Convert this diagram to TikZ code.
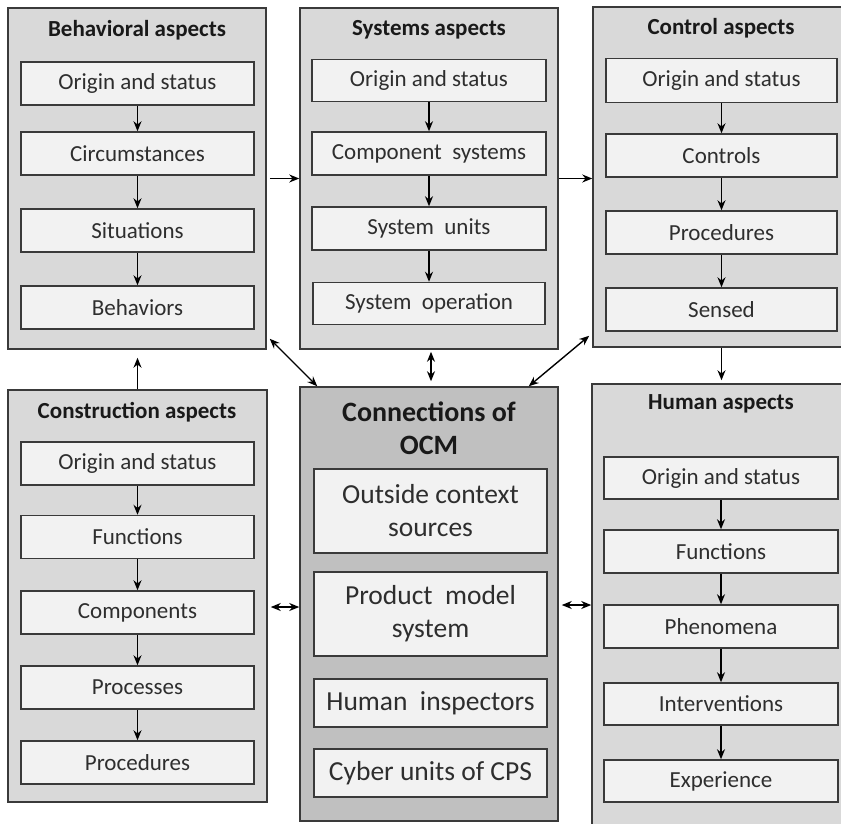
\documentclass[tikz,border=0pt]{standalone}
\usepackage{fontspec}
\setmainfont{Carlito}
\usetikzlibrary{arrows.meta}
\definecolor{bordc}{HTML}{3A3A3A}
\definecolor{outc}{HTML}{D9D9D9}
\definecolor{conc}{HTML}{C0C0C0}
\definecolor{inc}{HTML}{F2F2F2}
\definecolor{txtc}{HTML}{2E2E2E}
\tikzset{
  outer/.style={draw=bordc, line width=1.5pt, fill=outc, rectangle, inner sep=0pt},
  inbox/.style={draw=bordc, line width=1.5pt, fill=inc, rectangle, inner sep=0pt,
    minimum width=233pt, minimum height=43pt, text=txtc,
    font=\fontsize{23}{27}\selectfont},
  cbox/.style={draw=bordc, line width=1.5pt, fill=inc, rectangle, inner sep=0pt,
    minimum width=233pt, text=txtc, align=center,
    font=\fontsize{27.5}{33}\selectfont},
  ttl/.style={font=\bfseries\fontsize{23}{27}\selectfont, text=black!90, inner sep=0pt},
  arr/.style={-{Stealth[length=10pt,width=8pt]}, line width=1.4pt},
  darr/.style={{Stealth[length=10pt,width=8pt]}-{Stealth[length=10pt,width=8pt]}, line width=1.4pt},
}
\begin{document}
\begin{tikzpicture}[x=1pt,y=-1pt]
\path[use as bounding box] (0,0) rectangle (841,823);
\clip (0,0) rectangle (841,823);
\fill[white] (0,0) rectangle (841,823);

% outer boxes
\node[outer, minimum width=258pt, minimum height=341pt] (beh) at (137,178.5) {};
\node[outer, minimum width=258pt, minimum height=341pt] (sys) at (429,178.5) {};
\node[outer, minimum width=257pt, minimum height=340pt] (ctl) at (721.5,177) {};
\node[outer, minimum width=259pt, minimum height=412pt] (cons) at (137.5,596) {};
\node[outer, fill=conc, minimum width=258pt, minimum height=434pt] (conn) at (429,604) {};
\node[outer, minimum width=258pt, minimum height=456pt] (hum) at (721,612) {};

% titles
\node[ttl] (tbeh) at (137,30) {Behavioral\ aspects};
\node[ttl] (tsys) at (429,30) {Systems aspects};
\node[ttl] (tctl) at (721,28) {Control aspects};
\node[ttl] (tcons) at (137,412) {Construction aspects};
\node[ttl] (thum) at (721,404) {Human aspects};
\node[ttl, font=\bfseries\fontsize{28}{33}\selectfont, align=center] (tconn) at (429,428.5) {Connections of\\OCM};

% behavioral
\node[inbox] (b1) at (137.5,83.5) {Origin and status};
\node[inbox] (b2) at (137.5,153.5) {Circumstances};
\node[inbox] (b3) at (137.5,230.5) {Situations};
\node[inbox] (b4) at (137.5,307.5) {Behaviors};
% systems
\node[inbox, minimum width=234pt, minimum height=42pt] (s1) at (429,80.5) {Origin and status};
\node[inbox, minimum width=234pt] (s2) at (429,153.5) {Component\ \ systems};
\node[inbox, minimum width=234pt] (s3) at (429,228.5) {System\ \ units};
\node[inbox, minimum width=232pt, minimum height=42pt] (s4) at (429,303.5) {System\ \ operation};
% control
\node[inbox, minimum width=231pt, minimum height=44pt] (c1) at (721.5,80.5) {Origin and status};
\node[inbox, minimum width=231pt] (c2) at (721.5,155.5) {Controls};
\node[inbox, minimum width=231pt] (c3) at (721.5,232.5) {Procedures};
\node[inbox, minimum width=231pt] (c4) at (721.5,309.5) {Sensed};
% construction
\node[inbox] (k1) at (137.5,463.5) {Origin and status};
\node[inbox] (k2) at (137.5,537) {Functions};
\node[inbox] (k3) at (137.5,612.5) {Components};
\node[inbox] (k4) at (137.5,687.5) {Processes};
\node[inbox] (k5) at (137.5,762.5) {Procedures};
% human
\node[inbox, minimum width=234pt, minimum height=42pt] (h1) at (721,478) {Origin and status};
\node[inbox, minimum width=234pt] (h2) at (721,551.5) {Functions};
\node[inbox, minimum width=234pt] (h3) at (721,626.5) {Phenomena};
\node[inbox, minimum width=234pt, minimum height=42pt] (h4) at (721,704) {Interventions};
\node[inbox, minimum width=234pt, minimum height=42pt] (h5) at (721,781) {Experience};
% connections
\node[cbox, minimum height=84pt] (o1) at (430.5,511) {Outside context\\sources};
\node[cbox, minimum height=84pt] (o2) at (430.5,614) {Product\ \ model\\system};
\node[cbox, minimum height=48pt] (o3) at (430.5,703) {Human\ \ inspectors};
\node[cbox, minimum height=48pt] (o4) at (430.5,773) {Cyber units of CPS};

% inner arrows
\foreach \a/\b in {b1/b2,b2/b3,b3/b4,s1/s2,s2/s3,s3/s4,c1/c2,c2/c3,c3/c4,k1/k2,k2/k3,k3/k4,k4/k5,h1/h2,h2/h3,h3/h4,h4/h5}
  \draw[arr] (\a.south) -- (\b.north);

% outer arrows
\draw[arr, shorten <=3pt] (beh.east) -- (sys.west);
\draw[arr] (sys.east) -- (sys.east -| ctl.west);
\draw[arr, shorten >=3pt] (ctl.south) -- (ctl.south |- hum.north);
\draw[arr, shorten >=8pt] (cons.north) -- (cons.north |- beh.south);
\coordinate (hy) at (0,607);
\coordinate (hz) at (0,605);
\draw[darr, shorten <=3pt] (cons.east |- hy) -- (conn.west |- hy);
\draw[darr, shorten <=3pt] (conn.east |- hz) -- (hum.west |- hz);
\draw[darr] ([shift={(3pt,11pt)}]beh.south east) -- ([xshift=18pt]conn.north west);
\draw[darr, shorten <=2pt, shorten >=5pt] ([xshift=2pt]sys.south) -- ([xshift=2pt]conn.north);
\draw[darr] ([shift={(-3pt,12pt)}]ctl.south west) -- ([xshift=-30pt]conn.north east);
\end{tikzpicture}
\end{document}
